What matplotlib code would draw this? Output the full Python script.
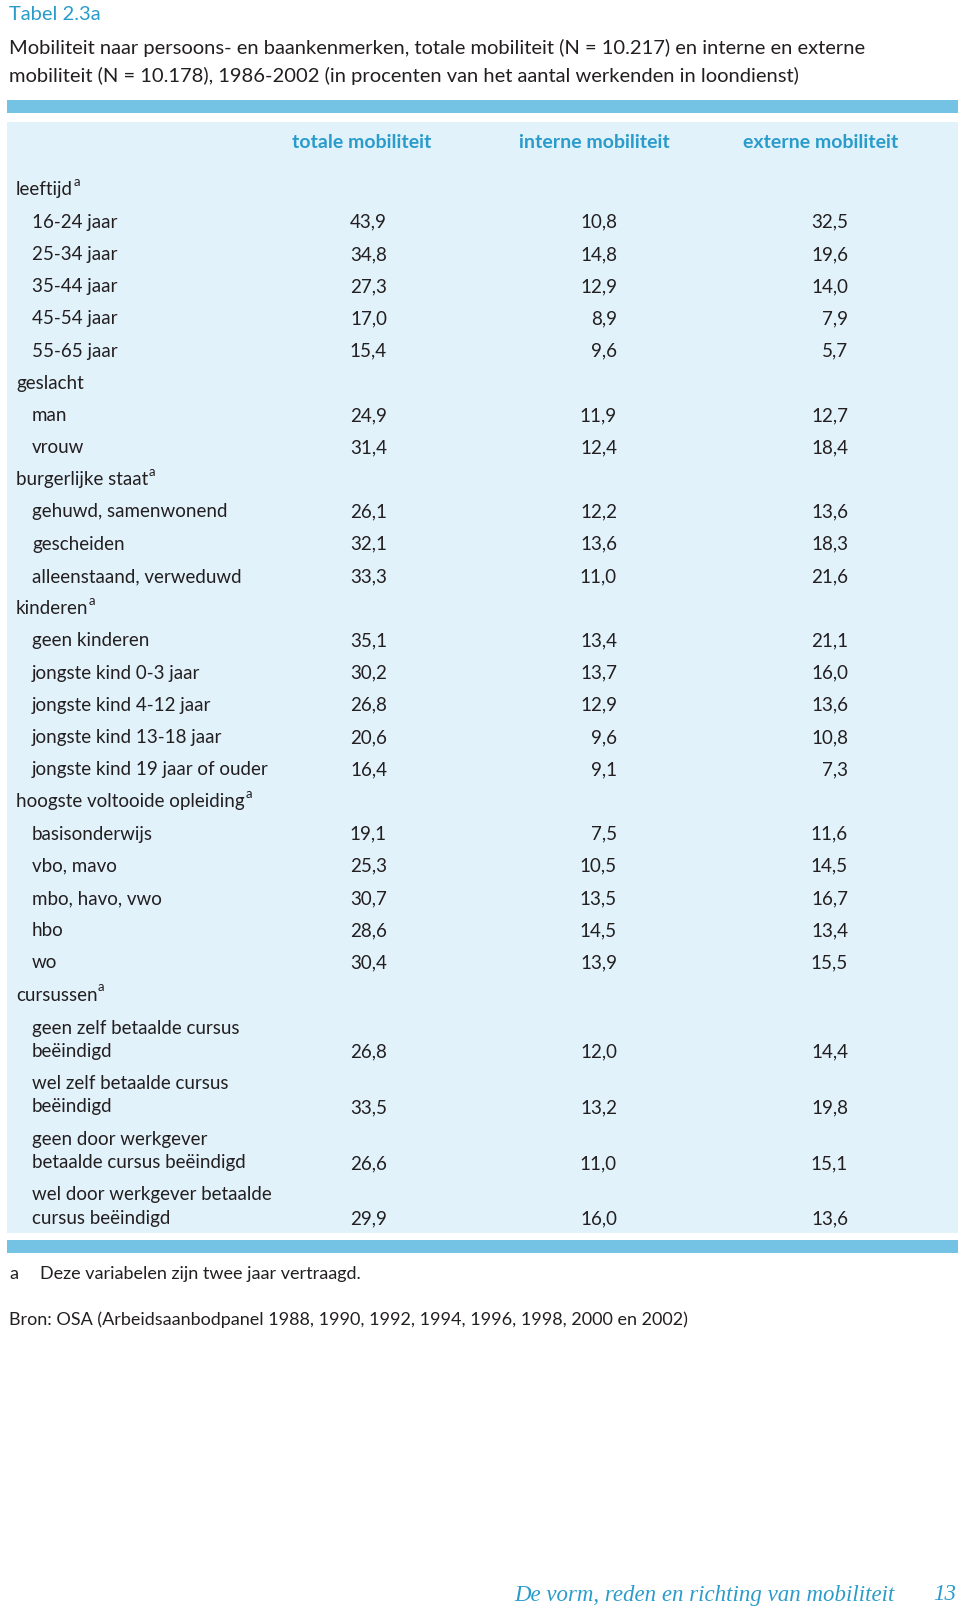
import matplotlib
matplotlib.use("Agg")
import matplotlib.pyplot as plt
from matplotlib.patches import Rectangle

# --- data ---
kolommen = ["totale mobiliteit", "interne mobiliteit", "externe mobiliteit"]

groepen = ["leeftijd", "geslacht", "burgerlijke staat", "kinderen",
           "hoogste voltooide opleiding", "cursussen"]
voetnoot_a = [True, False, True, True, True, True]

items = [
    ["16-24 jaar", "25-34 jaar", "35-44 jaar", "45-54 jaar", "55-65 jaar"],
    ["man", "vrouw"],
    ["gehuwd, samenwonend", "gescheiden", "alleenstaand, verweduwd"],
    ["geen kinderen", "jongste kind 0-3 jaar", "jongste kind 4-12 jaar",
     "jongste kind 13-18 jaar", "jongste kind 19 jaar of ouder"],
    ["basisonderwijs", "vbo, mavo", "mbo, havo, vwo", "hbo", "wo"],
    ["geen zelf betaalde cursus\nbeëindigd", "wel zelf betaalde cursus\nbeëindigd",
     "geen door werkgever\nbetaalde cursus beëindigd",
     "wel door werkgever betaalde\ncursus beëindigd"],
]

totale = [[43.9, 34.8, 27.3, 17.0, 15.4],
          [24.9, 31.4],
          [26.1, 32.1, 33.3],
          [35.1, 30.2, 26.8, 20.6, 16.4],
          [19.1, 25.3, 30.7, 28.6, 30.4],
          [26.8, 33.5, 26.6, 29.9]]
interne = [[10.8, 14.8, 12.9, 8.9, 9.6],
           [11.9, 12.4],
           [12.2, 13.6, 11.0],
           [13.4, 13.7, 12.9, 9.6, 9.1],
           [7.5, 10.5, 13.5, 14.5, 13.9],
           [12.0, 13.2, 11.0, 16.0]]
externe = [[32.5, 19.6, 14.0, 7.9, 5.7],
           [12.7, 18.4],
           [13.6, 18.3, 21.6],
           [21.1, 16.0, 13.6, 10.8, 7.3],
           [11.6, 14.5, 16.7, 13.4, 15.5],
           [14.4, 19.8, 15.1, 13.6]]

tabel_nr = "Tabel 2.3a"
titel = ("Mobiliteit naar persoons- en baankenmerken, totale mobiliteit (N = 10.217) en interne en externe\n"
         "mobiliteit (N = 10.178), 1986-2002 (in procenten van het aantal werkenden in loondienst)")
noot = "Deze variabelen zijn twee jaar vertraagd."
bron = "Bron: OSA (Arbeidsaanbodpanel 1988, 1990, 1992, 1994, 1996, 1998, 2000 en 2002)"
voettekst = "De vorm, reden en richting van mobiliteit"
pagina = "13"

# --- style ---
W, H = 960, 1613
teal = "#2a9ccb"
balk = "#74c3e4"
paneel = "#e2f2fb"
tekst = "#231f20"
plt.rcParams['font.family'] = ['Lato', 'DejaVu Sans']
fs = 13.5

fig = plt.figure(figsize=(W / 100, H / 100), dpi=100)
ax = fig.add_axes([0, 0, 1, 1])
ax.set_xlim(0, W)
ax.set_ylim(H, 0)
ax.axis("off")

ax.text(9, 14, tabel_nr, color=teal, fontsize=fs + 1, va="center")
ax.text(9, 62, titel, color=tekst, fontsize=fs + 1, va="center", linespacing=1.65)

ax.add_patch(Rectangle((7, 100), 951, 13, color=balk, lw=0))
ax.add_patch(Rectangle((7, 122), 951, 1111, color=paneel, lw=0))
ax.add_patch(Rectangle((7, 1240), 951, 13, color=balk, lw=0))

kol_mid = [362, 594, 821]
kol_rechts = [387, 617, 848]
for naam, xm in zip(kolommen, kol_mid):
    ax.text(xm, 142, naam, color=teal, fontsize=fs + 0.5, fontweight="bold",
            ha="center", va="center")

fig.canvas.draw()
renderer = fig.canvas.get_renderer()

y = 190.0
stap = 32.2
for g, groep in enumerate(groepen):
    t = ax.text(16, y, groep, color=tekst, fontsize=fs, va="center")
    if voetnoot_a[g]:
        bb = t.get_window_extent(renderer).transformed(ax.transData.inverted())
        ax.text(bb.x1 + 0.5, y - 8, "a", color=tekst, fontsize=fs - 4, va="center")
    y += stap
    for i, label in enumerate(items[g]):
        twee = "\n" in label
        yy = y + 12.5 if twee else y
        ax.text(32, yy, label, color=tekst, fontsize=fs, va="center", linespacing=1.45)
        waarden = [totale[g][i], interne[g][i], externe[g][i]]
        for w, xr in zip(waarden, kol_rechts):
            ax.text(xr, y + 25 if twee else y, f"{w:.1f}".replace(".", ","),
                    color=tekst, fontsize=fs, ha="right", va="center")
        y += 55.6 if twee else stap

ax.text(9, 1274, "a", color=tekst, fontsize=fs - 0.5, va="center")
ax.text(40, 1274, noot, color=tekst, fontsize=fs - 0.5, va="center")
ax.text(9, 1320, bron, color=tekst, fontsize=fs - 0.5, va="center")

ax.text(895, 1595, voettekst, color=teal, fontsize=fs + 3, style="italic",
        family=["Liberation Serif", "DejaVu Serif"], ha="right", va="center")
ax.text(956, 1595, pagina, color=teal, fontsize=fs + 3, style="italic",
        family=["Liberation Serif", "DejaVu Serif"], ha="right", va="center")

fig.savefig("out.png", dpi=100)
